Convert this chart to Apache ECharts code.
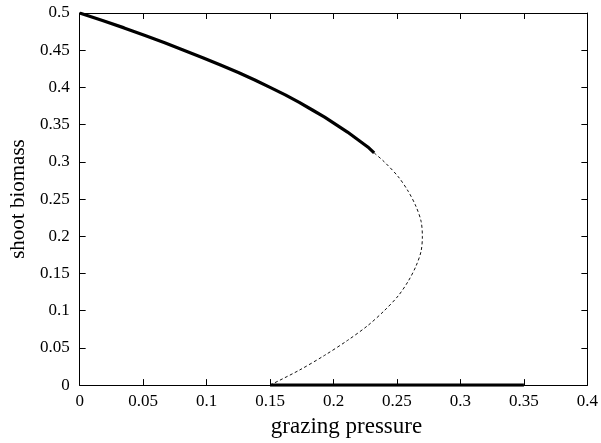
<!DOCTYPE html>
<html>
<head>
<meta charset="utf-8">
<script src="https://cdn.jsdelivr.net/npm/echarts@6/dist/echarts.min.js"></script>
<style>
html,body{margin:0;padding:0;background:#fff;}
#chart{width:601px;height:443px;}
</style>
</head>
<body>
<div id="chart"></div>
<script>
// Stable upper branch (thick solid)
const stableX = [0, 0.018, 0.035, 0.051, 0.067, 0.082, 0.097, 0.111, 0.125, 0.138, 0.15, 0.162, 0.173, 0.183, 0.193, 0.202, 0.211, 0.219, 0.227, 0.232];
const stableY = [0.5, 0.49, 0.48, 0.47, 0.46, 0.45, 0.44, 0.43, 0.42, 0.41, 0.40, 0.39, 0.38, 0.37, 0.36, 0.35, 0.34, 0.33, 0.32, 0.312];
// Unstable branch (thin dashed)
const unstableX = [0.232, 0.24, 0.251, 0.259, 0.265, 0.269, 0.27, 0.269, 0.265, 0.259, 0.251, 0.24, 0.227, 0.211, 0.193, 0.173, 0.15];
const unstableY = [0.312, 0.30, 0.28, 0.26, 0.24, 0.22, 0.20, 0.18, 0.16, 0.14, 0.12, 0.10, 0.08, 0.06, 0.04, 0.02, 0];
// Stable zero branch (thick solid)
const zeroX = [0.15, 0.35];
const zeroY = [0, 0];

const xLabel = 'grazing pressure';
const yLabel = 'shoot biomass';

const pairs = (xs, ys) => xs.map((x, i) => [x, ys[i]]);
const font = 'Liberation Serif';

const chart = echarts.init(document.getElementById('chart'));
const baseX = {
  type: 'value', min: 0, max: 0.4, interval: 0.05,
  axisLine: { show: true, onZero: false, lineStyle: { color: '#000', width: 1 } },
  axisTick: { show: true, inside: true, length: 6, lineStyle: { color: '#000' } },
  splitLine: { show: false }
};
const baseY = {
  type: 'value', min: 0, max: 0.5, interval: 0.05,
  axisLine: { show: true, onZero: false, lineStyle: { color: '#000', width: 1 } },
  axisTick: { show: true, inside: true, length: 6, lineStyle: { color: '#000' } },
  splitLine: { show: false }
};
chart.setOption({
  animation: false,
  backgroundColor: '#fff',
  grid: { left: 77, right: 12, top: 13, bottom: 56 },
  xAxis: [
    Object.assign({}, baseX, {
      position: 'bottom',
      name: xLabel, nameLocation: 'middle', nameGap: 27,
      nameTextStyle: { fontFamily: font, fontSize: 23, color: '#000', padding: [0, 0, 0, 26] },
      axisLabel: { fontFamily: font, fontSize: 17, color: '#000', margin: 8 }
    }),
    Object.assign({}, baseX, { position: 'top', axisLabel: { show: false } })
  ],
  yAxis: [
    Object.assign({}, baseY, {
      position: 'left',
      name: yLabel, nameLocation: 'middle', nameGap: 50,
      nameTextStyle: { fontFamily: font, fontSize: 21, color: '#000' },
      axisLabel: { fontFamily: font, fontSize: 17, color: '#000', margin: 10 }
    }),
    Object.assign({}, baseY, { position: 'right', axisLabel: { show: false } })
  ],
  series: [
    { type: 'line', xAxisIndex: 0, yAxisIndex: 0, data: pairs(stableX, stableY),
      showSymbol: false, smooth: false, lineStyle: { color: '#000', width: 3.2 } },
    { type: 'line', xAxisIndex: 0, yAxisIndex: 0, data: pairs(unstableX, unstableY),
      showSymbol: false, smooth: 0.3, lineStyle: { color: '#111', width: 1, type: [3, 2.5] } },
    { type: 'line', xAxisIndex: 0, yAxisIndex: 0, data: pairs(zeroX, zeroY),
      showSymbol: false, lineStyle: { color: '#000', width: 3.2 } }
  ]
});
</script>
</body>
</html>
